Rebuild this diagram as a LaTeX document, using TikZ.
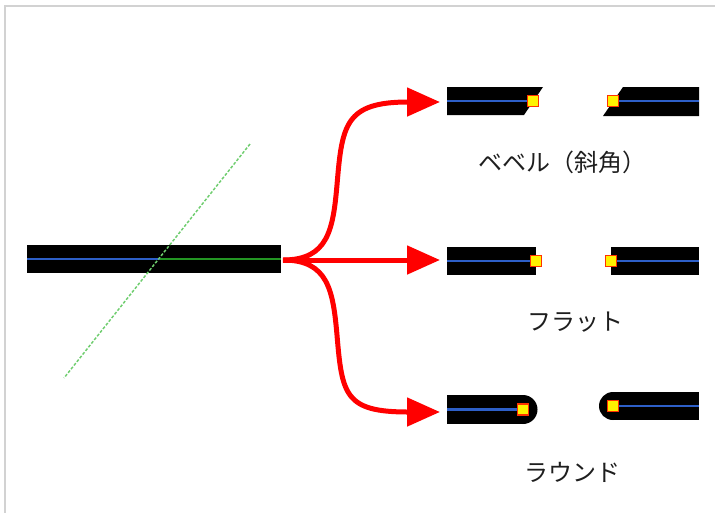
\documentclass[tikz,border=0pt]{standalone}
\usepackage{fontspec}
\newfontfamily\jp{Noto Sans CJK JP}
\usetikzlibrary{arrows.meta}
\definecolor{coreblue}{RGB}{45,95,200}
\definecolor{coregreen}{RGB}{35,150,35}
\definecolor{guidegreen}{RGB}{110,205,110}
\definecolor{framegray}{RGB}{210,210,210}
\definecolor{ptred}{RGB}{255,50,0}
\definecolor{txtgray}{RGB}{30,30,30}
\begin{document}
\begin{tikzpicture}[x=0.75pt,y=-0.75pt,
  bar/.style={fill=black},
  core/.style={draw=coreblue,line width=2.2pt},
  pt/.style={fill=yellow,draw=ptred,line width=1.1pt,minimum size=8pt,inner sep=0pt,rectangle},
  bigarrow/.style={draw=red,line width=3.75pt,-{Triangle[length=24.75pt,width=21pt]}},
  lbl/.style={font=\jp\fontsize{18}{20}\selectfont,text=txtgray,inner sep=0pt}]
\useasboundingbox (0,0) rectangle (715,512);
% frame
\draw[framegray,line width=1.5pt] (5,520) -- (5,6) -- (720,6);
% source bar
\fill[bar] (27,245) rectangle (281,273);
\coordinate (cut) at (160,259);
\draw[core] (27,259) -- (cut);
\draw[draw=coregreen,line width=2.2pt] (cut) -- (281,259);
\coordinate (g1) at (250,144);
\coordinate (g2) at (64,378);
\draw[guidegreen,line width=1.1pt,dash pattern=on 2.2pt off 1.3pt] (g1) -- (g2);
% arrows
\coordinate (src) at (283,260);
\coordinate (tipB) at (440,102);
\coordinate (tipF) at (440,260);
\coordinate (tipR) at (440,412);
\coordinate (midB) at (337,185);
\coordinate (midR) at (337,335);
\draw[bigarrow] (src) .. controls +(45,0) and +(-4,45) .. (midB) .. controls +(5,-60) and +(-95,0) .. (tipB);
\draw[bigarrow] (src) -- (tipF);
\draw[bigarrow] (src) .. controls +(45,0) and +(-4,-45) .. (midR) .. controls +(5,60) and +(-95,0) .. (tipR);
% bevel
\fill[bar] (447,87) -- (543,87) -- (524,115) -- (447,115) -- cycle;
\draw[core] (447,101) -- (533,101);
\node[pt] (b1) at (533,101) {};
\fill[bar] (623,87) -- (699,87) -- (699,116) -- (603,116) -- cycle;
\draw[core] (613,101) -- (699,101);
\node[pt] (b2) at (613,101) {};
\node[lbl] (lb) at (562,162) {ベベル（斜角）};
% flat
\fill[bar] (447,247) rectangle (536,275);
\draw[core] (447,261) -- (536,261);
\node[pt] (f1) at (536,261) {};
\fill[bar] (611,247) rectangle (699,275);
\draw[core] (611,261) -- (699,261);
\node[pt] (f2) at (611,261) {};
\node[lbl] (lf) at (575,322) {フラット};
% round
\fill[bar] (447,395) rectangle (523,424);
\fill[bar] (523,409.5) circle[radius=14.5];
\draw[core] (447,409.5) -- (523,409.5);
\node[pt] (r1) at (523,409.5) {};
\fill[bar] (613,392) rectangle (699,420);
\fill[bar] (613,406) circle[radius=14];
\draw[core] (613,406) -- (699,406);
\node[pt] (r2) at (613,406) {};
\node[lbl] (lr) at (572,472) {ラウンド};
\end{tikzpicture}
\end{document}
